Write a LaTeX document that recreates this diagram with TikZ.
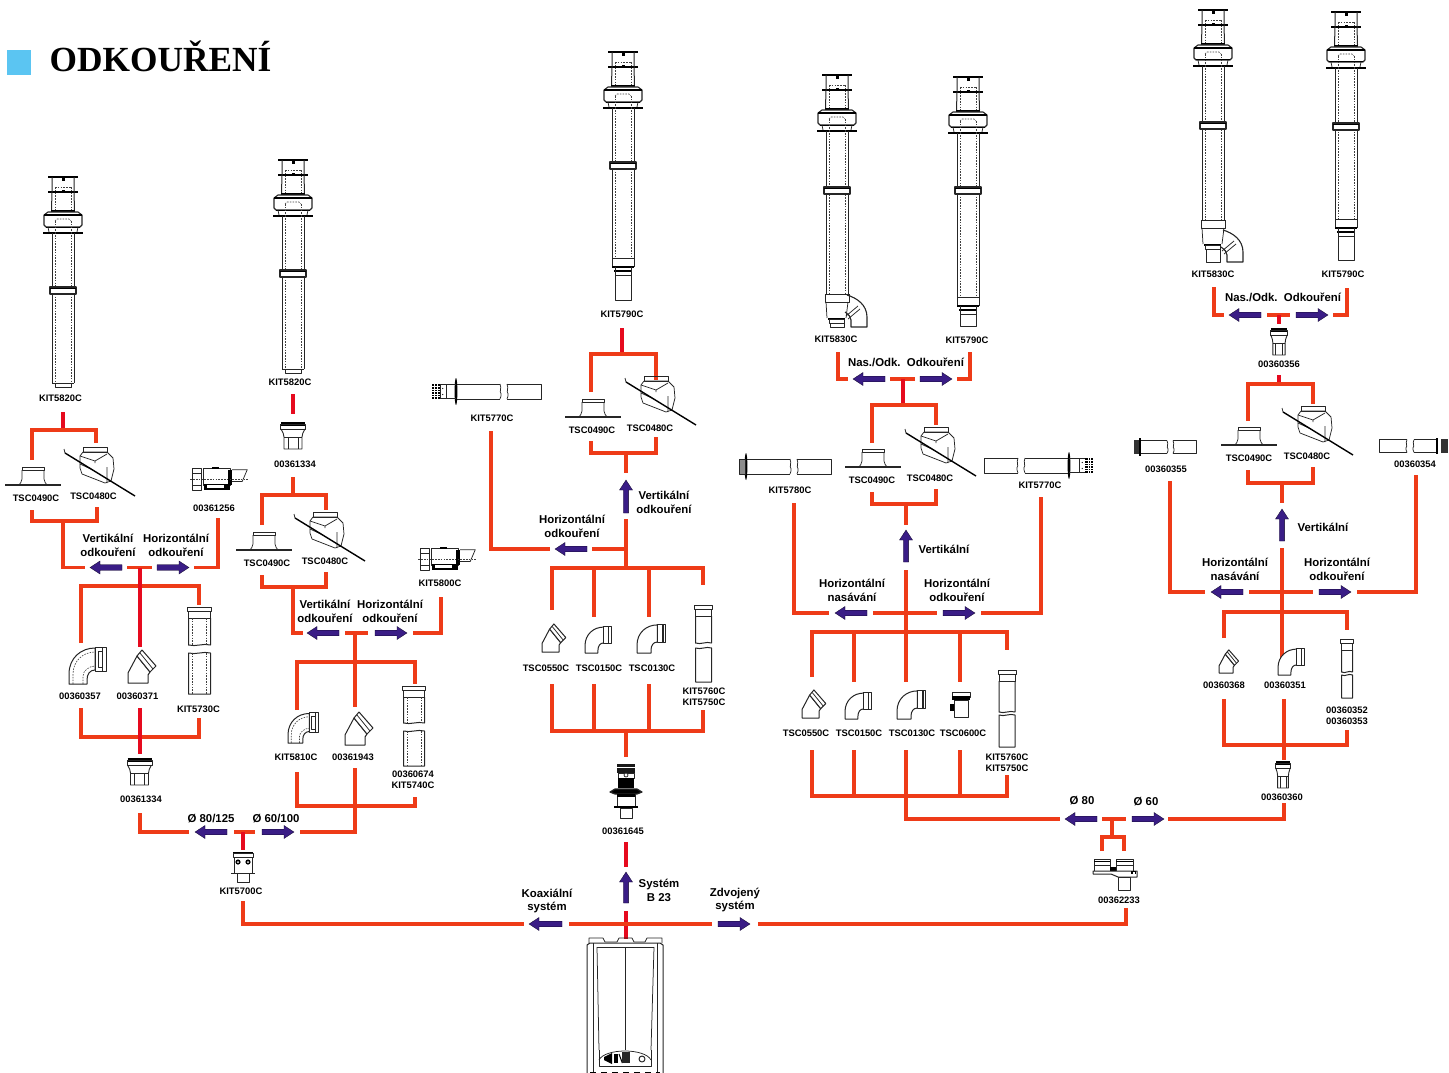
\documentclass[tikz,border=0pt]{standalone}
\usepackage{fontspec}
\setmainfont{Liberation Sans}
\newfontfamily\ttlfont{Liberation Serif}
\definecolor{flo}{HTML}{EE3B18}
\definecolor{frd}{HTML}{E60A1E}
\definecolor{arp}{HTML}{3A1D86}
\definecolor{sqb}{HTML}{5BC5F2}
\tikzset{
 fl/.style={draw=flo,line width=3.6pt,line cap=butt,line join=miter},
 fr/.style={draw=frd,line width=3.6pt,line cap=butt,line join=miter},
 pl/.style={draw=black!85,line width=.75pt,line join=round},
 pk/.style={draw=black,line width=1.5pt},
 pd/.style={draw=black!75,line width=.6pt,dash pattern=on 1.6pt off 1.2pt},
 lbl/.style={font=\bfseries\fontsize{9.4}{11}\selectfont,text=black,inner sep=0pt,align=center},
 big/.style={font=\bfseries\fontsize{11.4}{13.8}\selectfont,text=black,inner sep=0pt,align=center},
 arw/.style={fill=arp,draw=black!70!arp,line width=.3pt}
}
% arrows
\newcommand\harr[3]{\pgfmathsetmacro\hs{(#2>#1)?10:-10}\fill[arw] (#1,#3) -- (#1+\hs,#3-6.5) -- (#1+\hs,#3-2.8) -- (#2,#3-2.8) -- (#2,#3+2.8) -- (#1+\hs,#3+2.8) -- (#1+\hs,#3+6.5) -- cycle;}
\newcommand\varr[3]{\fill[arw] (#1,#2) -- (#1+6.5,#2+10) -- (#1+2.6,#2+10) -- (#1+2.6,#3) -- (#1-2.6,#3) -- (#1-2.6,#2+10) -- (#1-6.5,#2+10) -- cycle;}
% flue
\newcommand\fluehead[2]{\begin{scope}[shift={(#1,#2)}]
 \draw[pk] (-15,0)--(15,0);
 \draw[pk,line width=1.2pt] (-15,15)--(15,15);
 \fill[black] (-1.5,0) rectangle (1.5,4);
 \fill[black] (-1.5,13) rectangle (1.5,16);
 \draw[pl,line width=1pt] (-11,0)--(-11,15) (11,0)--(11,15) (-11,15)--(-11.5,33) (11,15)--(11.5,33);
 \draw[pd] (-8,10)--(8,10) (-8,10)--(-8,33) (8,10)--(8,33);
 \draw[pk] (-12,34)--(12,34);
 \draw[pl,line width=1.1pt,fill=white] (-15,35)--(-19,38)--(-19,48)--(-17,50)--(17,50)--(19,48)--(19,38)--(15,35)--cycle;
 \draw[pk,line width=1.2pt] (-19,38)--(19,38);
 \draw[pk,line width=1pt] (-17,50)--(17,50);
 \draw[pl] (-15,50)--(-14,55) (15,50)--(14,55);
 \draw[pd] (-8,44)--(-6,42)--(6,42)--(8,44);
 \draw[pk,line width=1.2pt] (-20,56)--(20,56);
\end{scope}}
\newcommand\fluetube[3]{\begin{scope}[shift={(#1,0)}] % cx, flange y, bottom y
 \draw[pl,line width=1pt] (-11,#2)--(-11,#3) (11,#2)--(11,#3);
 \draw[pd] (-8,#2-12)--(-8,#3) (8,#2-12)--(8,#3);
\end{scope}}
\newcommand\flring[2]{\begin{scope}[shift={(#1,#2)}]
 \draw[pl,fill=white,line width=1.1pt] (-13,0) rectangle (13,7);
 \draw[pk,line width=1.2pt] (-13,1.5)--(13,1.5);
\end{scope}}
\newcommand\fluestub[2]{\begin{scope}[shift={(#1,#2)}]
 \draw[pl,line width=1pt] (-11,0)--(11,0); \draw[pl] (-8,0)--(-8,4)--(8,4)--(8,0);
\end{scope}}
\newcommand\flueend[3]{\begin{scope}[shift={(#1,#2)}] % cx, y of sleeve, end y
 \draw[pl] (-11,0)--(11,0);
 \draw[pl,line width=1pt] (-11,0)--(-11,9) (11,0)--(11,9);
 \draw[pk,line width=1.4pt] (-11,9)--(11,9);
 \draw[pk,line width=1.1pt] (-9,13)--(9,13);
 \draw[pl] (-8,9)--(-8,17) (8,9)--(8,17);
 \draw[pl,line width=1pt] (-8,17)--(8,17);
 \draw[pl,line width=1pt] (-8,17)--(-8,#3-#2)--(8,#3-#2)--(8,17);
\end{scope}}
\newcommand\fluetwin[3]{\begin{scope}[shift={(#1,#2)}] % cx, sleeve y, end y
 \draw[pl] (-12,0)--(12,0) (-12,0)--(-12,8)--(12,8)--(12,0);
 \draw[pl] (-11,8)--(-10,24) (11,8)--(9,24);
 \draw[pk,line width=1.4pt] (-9,25)--(8,25);
 \draw[pl] (-8,25.5) rectangle (7,29);
 \draw[pl,line width=1pt] (-7,29)--(-7,#3-#2)--(7,#3-#2)--(7,29);
 \draw[pl,line width=1.1pt] (10,#3-#2-32) .. controls (20,#3-#2-29) and (30,#3-#2-22) .. (30,#3-#2-10) -- (30,#3-#2) -- (14,#3-#2) -- (14,#3-#2-7) .. controls (14,#3-#2-10) and (12,#3-#2-12) .. (8,#3-#2-15);
 \draw[pl] (9,#3-#2-11)--(21,#3-#2-21) (11,#3-#2-8)--(23,#3-#2-18);
\end{scope}}
% roofs
\newcommand\roofflat[2]{\begin{scope}[shift={(#1,#2)}]
 \draw[pl,line width=1.1pt] (-28,0)--(28,0);
 \draw[pl] (-11,-18) rectangle (11,-15);
 \draw[pl] (-11,-15)--(-11,-6) .. controls (-11,-3) and (-13,-2) .. (-14,0);
 \draw[pl] (11,-15)--(11,-6) .. controls (11,-3) and (13,-2) .. (14,0);
\end{scope}}
\newcommand\roofpitch[2]{\begin{scope}[shift={(#1,#2)}]
 \draw[pl,fill=white] (-12,5)--(-15,9)--(-15,21)--(-13,27)--(10,36)--(16,34)--(19,22)--(18,11)--(12,5)--cycle;
 \draw[pl] (-12,0) rectangle (12,5);
 \draw[pl] (-15,9)--(0,14)--(12,7) (0,14)--(0,16) (-15,17)--(-2,23) (12,20)--(12,36);
 \draw[pk,line width=1.4pt] (-30,6)--(40,49);
 \draw[pl] (-31,2)--(-30,6);
\end{scope}}
% elbows
\newcommand\elbowA[4]{\begin{scope}[shift={(#1,#2)},scale=#3]
 \draw[pl,line width=1pt,fill=white] (0,0)--(0,-10) .. controls (0,-26) and (12,-36) .. (26,-36) -- (26,-14) .. controls (21,-14) and (18,-10) .. (18,-4) -- (18,0) -- cycle;
 \draw[pl,fill=white] (26,-37) rectangle (37,-13);
 \draw[pl,line width=#4] (33,-37)--(33,-13);
\end{scope}}
\newcommand\elbowD[3]{\begin{scope}[shift={(#1,#2)},scale=#3]
 \draw[pd] (4,0)--(4,-10) .. controls (4,-23) and (14,-32) .. (26,-32);
 \draw[pd] (14,0)--(14,-8) .. controls (14,-13) and (20,-18) .. (26,-18);
 \draw[pl] (29,-33) rectangle (33,-17);
\end{scope}}
\newcommand\elbowB[3]{\begin{scope}[shift={(#1,#2)},scale=#3]
 \draw[pl,line width=1pt,fill=white] (0,0)--(0,-10)--(9,-27)--(22,-11)--(20,-8)--(20,0)--cycle;
 \draw[pl,line width=1pt,fill=white] (9,-27)--(14,-33)--(28,-17)--(22,-11)--cycle;
 \draw[pl] (12,-30)--(25,-14);
\end{scope}}
% pipes
\newcommand\pipeP[6]{\begin{scope}[shift={(#1,0)}] % cx top b1 b2 bottom hw
 \draw[pl,fill=white] (-#6-1,#2) rectangle (#6+1,#2+4);
 \draw[pl] (-#6,#2+4) rectangle (#6,#2+11);
 \draw[pl,line width=1pt] (-#6,#2+11)--(-#6,#3) .. controls (-#6/3,#3+2) and (#6/3,#3-2) .. (#6,#3)--(#6,#2+11);
 \draw[pl,line width=1pt] (-#6,#4) .. controls (-#6/3,#4+2) and (#6/3,#4-2) .. (#6,#4)--(#6,#5)--(-#6,#5)--cycle;
\end{scope}}
\newcommand\pipeD[5]{\begin{scope}[shift={(#1,0)}] % cx top b1 b2 bottom
 \draw[pd] (-7,#2+11)--(-7,#3) (7,#2+11)--(7,#3) (-7,#4)--(-7,#5) (7,#4)--(7,#5);
\end{scope}}
\newcommand\adapt[4]{\begin{scope}[shift={(#1,#2)},xscale=#3,yscale=#4]
 \draw[pk,line width=1.2pt] (-12,0)--(12,0);
 \draw[pk,line width=1.2pt] (-12,2.5)--(12,2.5);
 \draw[pl] (-12.5,1) rectangle (12.5,6);
 \draw[pl,line width=.9pt] (-12,6) .. controls (-10,10) and (-9,11) .. (-9,14) -- (-9,26) -- (9,26) -- (9,14) .. controls (9,11) and (10,10) .. (12,6);
 \draw[pl] (-5,14)--(-5,26) (5,14)--(5,26) (-9,14)--(9,14);
\end{scope}}
% horizontal kits; origin at flange centre
\newcommand\horiz[7]{\begin{scope}[shift={(#1,#2)},xscale=#3,yscale=#4] % x y xs ys break1 break2 end
 \draw[pl,line width=1pt] (0,-7.5)--(#5,-7.5) (0,7.5)--(#5,7.5);
 \draw[pl] (#5,-7.5)..controls(#5+2,-3)and(#5-1,0)..(#5+1,2) .. controls (#5+2,4) and (#5,6) .. (#5,7.5);
 \draw[pl,line width=1pt] (#6,7.5)--(#7,7.5)--(#7,-7.5)--(#6,-7.5);
 \draw[pl] (#6,-7.5)..controls(#6+2,-3)and(#6-1,0)..(#6+1,2) .. controls (#6+2,4) and (#6,6) .. (#6,7.5);
\end{scope}}
\newcommand\flangeM[3]{\begin{scope}[shift={(#1,#2)},xscale=#3]
 \fill[black] (0,0) ellipse (1.4 and 13.5);
 \draw[pl] (0,-7)--(-10,-7) (0,7)--(-10,7) (-10,-7)--(-10,7) (-16,-7)--(-16,7) (-16,-7)--(-10,-7) (-16,7)--(-10,7);
 \fill[black] (-13.2,-3) circle (.6) (-13.2,3) circle (.6);
 \fill[black] (-24,-7.5) rectangle (-16,7.5);
 \foreach \q in {-5,-2.5,0,2.5,5}{\draw[white,line width=.35pt] (-24,\q)--(-16,\q);}
 \foreach \q in {-21.5,-19}{\draw[white,line width=.35pt] (\q,-7.5)--(\q,7.5);}
\end{scope}}
\newcommand\kitS[2]{\begin{scope}[shift={(#1,#2)},scale=.85]
 \draw[pl,line width=1pt] (0,0) rectangle (11,27);
 \draw[pl] (0,6)--(11,6) (0,20)--(11,20);
 \draw[pl,line width=1pt] (13,1)--(45,1)--(45,20)--(13,20)--cycle;
 \fill[black] (14,19) rectangle (45,26);
 \fill[white] (18,20.5) rectangle (38,23.5);
 \fill[black] (42,2) rectangle (47,20);
 \draw[pl] (47,2)--(65,2)--(59,16)--(47,16);
 \draw[pd] (-2,13)--(66,13);
 \fill[black] (24,-1) rectangle (32,1);
\end{scope}}
\begin{document}
\begin{tikzpicture}[x=1pt,y=-1pt]
\useasboundingbox (0,0) rectangle (1449,1073);
% title
\fill[sqb] (7,50) rectangle (31,75);
\node[anchor=base west,inner sep=0pt,font=\ttlfont\bfseries\fontsize{35.3}{40}\selectfont,text=black] (title) at (49.5,72) {ODKOUŘENÍ};

% ---------- connectors, column A
\draw[fr] (63,412)--(63,430);
\draw[fl] (32,460)--(32,430)--(96,430)--(96,443);
\draw[fl] (32,510)--(32,521)--(97,521)--(97,507);
\draw[fl] (63,521)--(63,567.5)--(85,567.5);
\draw[fl] (127,567.5)--(152,567.5);
\draw[fl] (194,567.5)--(218,567.5)--(218,518);
\draw[fl] (81,643)--(81,586)--(199,586)--(199,605);
\draw[fr] (140,567.5)--(140,647);
\draw[fl] (81,708)--(81,737)--(199,737)--(199,718);
\draw[fr] (140,708)--(140,754);
\draw[fl] (140,813)--(140,832)--(189,832);
\draw[fl] (234,832)--(255,832);
\draw[fr] (243,832)--(243,850);
\draw[fl] (300,832)--(355,832)--(355,768);
\draw[fl] (243,901)--(243,924)--(524,924);
% column B
\draw[fr] (293,394)--(293,414);
\draw[fl] (293,477)--(293,495);
\draw[fl] (262,525)--(262,495)--(326,495)--(326,510);
\draw[fl] (262,575)--(262,587)--(326,587)--(326,572);
\draw[fl] (293,587)--(293,633)--(303,633);
\draw[fl] (345,633)--(368,633);
\draw[fl] (413,633)--(441,633)--(441,597);
\draw[fl] (355,633)--(355,707);
\draw[fl] (297,710)--(297,662)--(415,662)--(415,684);
\draw[fl] (297,772)--(297,806)--(415,806)--(415,797);
% column C
\draw[fr] (622,328)--(622,354);
\draw[fl] (591,392)--(591,354)--(656,354)--(656,380);
\draw[fl] (591,441)--(591,453)--(656,453)--(656,437);
\draw[fl] (626,453)--(626,473);
\draw[fl] (626,519)--(626,568);
\draw[fl] (491,431)--(491,549)--(550,549);
\draw[fl] (592,549)--(626,549);
\draw[fl] (552,610)--(552,568)--(703,568)--(703,585);
\draw[fl] (594,568)--(594,617);
\draw[fl] (649,568)--(649,617);
\draw[fl] (552,684)--(552,731)--(703,731)--(703,710);
\draw[fl] (594,684)--(594,731);
\draw[fl] (649,684)--(649,731);
\draw[fl] (626,731)--(626,757);
\draw[fr] (626,842)--(626,867);
\draw[fr] (626,911)--(626,939);
\draw[fl] (569,924)--(712,924);
\draw[fl] (758,924)--(1126,924)--(1126,908);
% column D/E
\draw[fl] (838,352)--(838,379)--(848,379);
\draw[fl] (890,379)--(915,379);
\draw[fl] (957,379)--(970,379)--(970,352);
\draw[fr] (903,379)--(903,405);
\draw[fl] (872,443)--(872,405)--(936,405)--(936,425);
\draw[fl] (872,492)--(872,504)--(936,504)--(936,489);
\draw[fl] (906,504)--(906,525);
\draw[fl] (906,570)--(906,682);
\draw[fl] (794,503)--(794,613)--(829,613);
\draw[fl] (873,613)--(937,613);
\draw[fl] (981,613)--(1041,613)--(1041,497);
\draw[fl] (812,677)--(812,632)--(1007,632)--(1007,650);
\draw[fl] (854,632)--(854,682);
\draw[fl] (960,632)--(960,682);
\draw[fl] (812,750)--(812,796)--(1007,796)--(1007,775);
\draw[fl] (854,750)--(854,796);
\draw[fl] (960,750)--(960,796);
\draw[fl] (906,750)--(906,819)--(1060,819);
\draw[fl] (1102,819)--(1126,819);
\draw[fl] (1112,819)--(1112,837);
\draw[fl] (1102,851)--(1102,837)--(1124,837)--(1124,851);
\draw[fl] (1168,819)--(1284,819)--(1284,803);
% column F/G
\draw[fl] (1214,287)--(1214,315)--(1224,315);
\draw[fl] (1267,315)--(1290,315);
\draw[fl] (1333,315)--(1347,315)--(1347,288);
\draw[fr] (1279,315)--(1279,324);
\draw[fr] (1279,375)--(1279,384);
\draw[fl] (1248,421)--(1248,384)--(1313,384)--(1313,404);
\draw[fl] (1248,470)--(1248,483)--(1313,483)--(1313,467);
\draw[fl] (1282,483)--(1282,503);
\draw[fl] (1282,548)--(1282,665);
\draw[fl] (1170,481)--(1170,592)--(1205,592);
\draw[fl] (1249,592)--(1313,592);
\draw[fl] (1357,592)--(1416,592)--(1416,475);
\draw[fl] (1224,638)--(1224,612)--(1347,612)--(1347,630);
\draw[fl] (1224,699)--(1224,745)--(1347,745)--(1347,730);
\draw[fl] (1284,699)--(1284,760);

% ---------- arrows
\harr{90}{122}{567.5}\harr{189}{157}{567.5}
\harr{195}{227}{832}\harr{294}{262}{832}
\harr{307}{339}{633}\harr{407}{375}{633}
\harr{555}{587}{549}\varr{626}{480}{513}
\varr{626}{872}{903}\harr{529}{562}{924}\harr{750}{718}{924}
\harr{853}{885}{379}\harr{952}{920}{379}
\varr{906}{530}{562}\harr{835}{867}{613}\harr{975}{943}{613}
\harr{1065}{1097}{819}\harr{1164}{1132}{819}
\harr{1229}{1261}{315}\harr{1328}{1296}{315}
\varr{1282}{509}{541}\harr{1211}{1243}{592}\harr{1351}{1319}{592}

% ---------- flues
\fluehead{63}{177}\fluetube{63}{233}{383}\flring{63}{287}\fluestub{63}{383}
\fluehead{293}{160}\fluetube{293}{216}{369}\flring{293}{270}\fluestub{293}{369}
\fluehead{623}{52}\fluetube{623}{108}{258}\flring{623}{162}\flueend{623}{258}{300}
\fluehead{837}{75}\fluetube{837}{131}{294}\flring{837}{187}\fluetwin{837}{294}{327}
\fluehead{968}{77}\fluetube{968}{133}{297}\flring{968}{187}\flueend{968}{297}{326}
\fluehead{1213}{10}\fluetube{1213}{66}{220}\flring{1213}{122}\fluetwin{1213}{220}{262}
\fluehead{1346}{12}\fluetube{1346}{68}{219}\flring{1346}{123}\flueend{1346}{219}{260}

% roofs
\roofflat{33}{485}\roofpitch{95}{447}
\roofflat{264}{550}\roofpitch{325}{512}
\roofflat{593}{417}\roofpitch{656}{376}
\roofflat{873}{467}\roofpitch{936}{427}
\roofflat{1249}{445}\roofpitch{1313}{406}

% elbows
\elbowA{69}{684}{1}{.6pt}\elbowD{69}{684}{1}
\elbowB{128}{683}{1}
\elbowA{288}{743}{.82}{.6pt}\elbowD{288}{743}{.82}
\elbowB{345}{745}{1}
\elbowB{542}{652}{.85}
\elbowA{585}{653}{.72}{.6pt}
\elbowA{637}{653}{.78}{1.6pt}
\elbowB{802}{718}{.85}
\elbowA{845}{719}{.72}{.6pt}
\elbowA{897}{719}{.78}{1.6pt}
\elbowB{1219}{673}{.7}
\elbowA{1278}{675}{.72}{1.2pt}

% pipes
\pipeP{199.5}{607}{645}{653}{694}{11}\pipeD{199.5}{607}{645}{653}{694}
\pipeP{414}{686}{723}{731}{766}{10.5}\pipeD{414}{686}{723}{731}{766}
\pipeP{703.5}{605}{643}{648}{682}{8}
\pipeP{1007}{670}{712}{715}{747}{8}
\pipeP{1347}{639}{672}{675}{698}{5.5}

% adapters
\adapt{139.5}{759}{1}{1}
\adapt{293}{423}{1}{1}
\adapt{1279}{329}{.68}{1}
\adapt{1283}{762}{.6}{1}

% KIT5700C
\begin{scope}[shift={(243,853)}]
 \draw[pk,line width=1.2pt] (-10,0)--(10,0);
 \draw[pl] (-10,0) rectangle (10,4);
 \draw[pl] (-9,4) rectangle (9,20);
 \fill[black] (-5,9) circle (2.6) (5,9) circle (2.6);
 \fill[white] (-5,9) circle (1) (5,9) circle (1);
 \draw[pl,line width=1pt] (-12,20)--(12,20);
 \draw[pl] (-6,20) rectangle (6,29);
\end{scope}
% TSC0600C
\begin{scope}[shift={(961,692)}]
 \draw[pl] (-9,0) rectangle (9,5);
 \fill[black] (-9,4) rectangle (9,8);
 \draw[pl] (-7,8) rectangle (7,25);
 \fill[black] (-11,12) rectangle (-7,19);
\end{scope}
% 00361645
\begin{scope}[shift={(626,764)}]
 \fill[black!90] (-9,0) rectangle (9,9);
 \fill[white] (-9,3) rectangle (9,4);
 \draw[pl] (-8,9) rectangle (8,14);
 \fill[black] (-8,14) rectangle (8,24);
 \fill[white] (0,11) circle (2); \draw[pl] (0,11) circle (2);
 \draw[pl,line width=1.2pt,fill=black] (-16,28)--(-11,25)--(11,25)--(16,28)--(11,30)--(-11,30)--cycle;
 \draw[pl] (-9,30) rectangle (9,43);
 \fill[black] (-9,30) rectangle (9,33);
 \draw[pk,line width=2pt] (-12,43)--(12,43);
 \draw[pl] (-6,44) rectangle (6,54);
\end{scope}
% 00362233
\begin{scope}[shift={(1093,859)}]
 \draw[pl,fill=white] (1,0) rectangle (17,12);
 \draw[pl,fill=white] (23,0) rectangle (40,12);
 \draw[pk,line width=1pt] (1,2.5)--(17,2.5) (23,2.5)--(40,2.5);
 \draw[pl] (1,6)--(17,6) (23,6)--(40,6);
 \fill[black] (17,8) rectangle (23,12);
 \draw[pl,line width=1pt,fill=white] (0,15)--(0,12)--(44,12)--(44,18)--(25,18)--(18,15)--cycle;
 \draw[pl,fill=white] (25,18) rectangle (37,31);
 \fill[black] (38,12) rectangle (43,15);
 \fill[white] (39.5,12.5) rectangle (41.5,14.5);
\end{scope}
% kits small
\kitS{192}{468}
\kitS{420}{548}
% horizontal kits
\horiz{456}{391.5}{1}{1}{44}{51}{85}
\flangeM{456}{391.5}{1}
\horiz{746}{466.5}{1}{1}{44}{51}{85}
\fill[black] (746,466.5) ellipse (1.4 and 13.5);
\draw[pl,fill=black!45] (739,459) rectangle (745,474);
\horiz{1069}{465.5}{-1}{1}{44}{51}{85}
\flangeM{1069}{465.5}{-1}
\begin{scope}
\horiz{1140}{447}{1}{.85}{27}{33}{56}
\fill[black!80] (1134,440) rectangle (1140,454);
\draw[black,line width=1.5pt] (1140,438)--(1140,456);
\horiz{1437}{446}{-1}{.85}{23}{30}{58}
\fill[black!80] (1441,439) rectangle (1448,453);
\draw[black,line width=1.5pt] (1437,438)--(1437,454);
\end{scope}

% boiler
\begin{scope}
 \draw[pl] (589,943)--(589,938)--(603,938)--(605,942)--(617,942)--(619,938)--(632,938)--(634,942)--(645,942)--(647,938)--(662,938)--(662,943);
 \draw[pl,line width=1pt] (587,1073)--(587,945)--(590,943)--(660,943)--(663,945)--(663,1073);
 \draw[pl] (593,943)--(593,1073) (657,943)--(657,1073);
 \draw[pl,line width=1pt] (597,947)--(654,947);
 \draw[pl] (597,947)--(599,1050) (654,947)--(651,1050);
 \draw[pl] (625,947)--(625,1050);
 \draw[pl] (599,1060) .. controls (605,1048) and (645,1048) .. (651,1060);
 \draw[pl] (599,1050)--(599,1066)--(651,1066)--(651,1050);
 \fill[black] (604,1057)--(612,1053)--(612,1064)--(604,1060)--cycle;
 \fill[black] (614,1054) rectangle (618,1063);
 \draw[black,line width=1pt] (619,1054)--(622,1062)--(624,1055);
 \fill[black!85] (622,1052) rectangle (630,1063);
 \draw[pl,line width=1pt] (642,1059) circle (3);
 \draw[black,line width=1.5pt,dash pattern=on 6pt off 5pt] (590,1072.4)--(660,1072.4);
\end{scope}

% ---------- labels
\newcommand\lb[4]{\node[lbl] (#1) at (#2,#3) {#4};}
\newcommand\bg[4]{\node[big] (#1) at (#2,#3) {#4};}
\lb{a1}{60.5}{398}{KIT5820C}
\lb{a2}{36}{498}{TSC0490C}
\lb{a3}{93.5}{496}{TSC0480C}
\lb{a4}{214}{508}{00361256}
\bg{a5}{108}{545}{Vertikální\\odkouření}
\bg{a6}{176}{545}{Horizontální\\odkouření}
\lb{a7}{80}{696}{00360357}
\lb{a8}{137.5}{696}{00360371}
\lb{a9}{198.5}{709}{KIT5730C}
\lb{a10}{141}{799}{00361334}
\bg{a11}{211}{819}{Ø 80/125}
\bg{a12}{276}{819}{Ø 60/100}
\lb{a13}{241}{891}{KIT5700C}
\lb{b1}{290}{382}{KIT5820C}
\lb{b2}{295}{464}{00361334}
\lb{b3}{267}{563}{TSC0490C}
\lb{b4}{325}{561}{TSC0480C}
\lb{b5}{440}{583}{KIT5800C}
\bg{b6}{325}{611}{Vertikální\\odkouření}
\bg{b7}{390}{611}{Horizontální\\odkouření}
\lb{b8}{296}{757}{KIT5810C}
\lb{b9}{353}{757}{00361943}
\lb{b10}{413}{780}{00360674\\KIT5740C}
\lb{c1}{492}{418}{KIT5770C}
\lb{c2}{622}{314}{KIT5790C}
\lb{c3}{592}{430}{TSC0490C}
\lb{c4}{650}{428}{TSC0480C}
\bg{c5}{572}{526}{Horizontální\\odkouření}
\bg{c6}{664}{502}{Vertikální\\odkouření}
\lb{c7}{546}{668}{TSC0550C}
\lb{c8}{599}{668}{TSC0150C}
\lb{c9}{652}{668}{TSC0130C}
\lb{c10}{704}{696.5}{KIT5760C\\KIT5750C}
\lb{c11}{623}{831}{00361645}
\bg{c12}{659}{890}{Systém\\B 23}
\bg{c13}{547}{901}{Koaxiální\\systém}
\bg{c14}{735}{900}{Zdvojený\\systém}
\lb{d1}{836}{339}{KIT5830C}
\lb{d2}{967}{340}{KIT5790C}
\bg{d3}{906}{362}{Nas./Odk.\ \ Odkouření}
\lb{d4}{790}{490}{KIT5780C}
\lb{d5}{872}{480}{TSC0490C}
\lb{d6}{930}{478}{TSC0480C}
\lb{d7}{1040}{485}{KIT5770C}
\bg{d8}{944}{549}{Vertikální}
\bg{d9}{852}{590}{Horizontální\\nasávání}
\bg{d10}{957}{590}{Horizontální\\odkouření}
\lb{d11}{806}{733}{TSC0550C}
\lb{d12}{859}{733}{TSC0150C}
\lb{d13}{912}{733}{TSC0130C}
\lb{d14}{963}{733}{TSC0600C}
\lb{d15}{1007}{762.5}{KIT5760C\\KIT5750C}
\bg{e1}{1082}{801}{Ø 80}
\bg{e2}{1146}{802}{Ø 60}
\lb{e3}{1119}{900}{00362233}
\lb{e4}{1282}{797}{00360360}
\lb{f1}{1213}{274}{KIT5830C}
\lb{f2}{1343}{274}{KIT5790C}
\bg{f3}{1283}{297}{Nas./Odk.\ \ Odkouření}
\lb{f4}{1279}{364}{00360356}
\lb{f5}{1166}{469}{00360355}
\lb{f6}{1249}{458}{TSC0490C}
\lb{f7}{1307}{456}{TSC0480C}
\lb{f8}{1415}{464}{00360354}
\bg{f9}{1323}{527}{Vertikální}
\bg{f10}{1235}{569}{Horizontální\\nasávání}
\bg{f11}{1337}{569}{Horizontální\\odkouření}
\lb{f12}{1224}{685}{00360368}
\lb{f13}{1285}{685}{00360351}
\lb{f14}{1347}{715.5}{00360352\\00360353}
\end{tikzpicture}
\end{document}
